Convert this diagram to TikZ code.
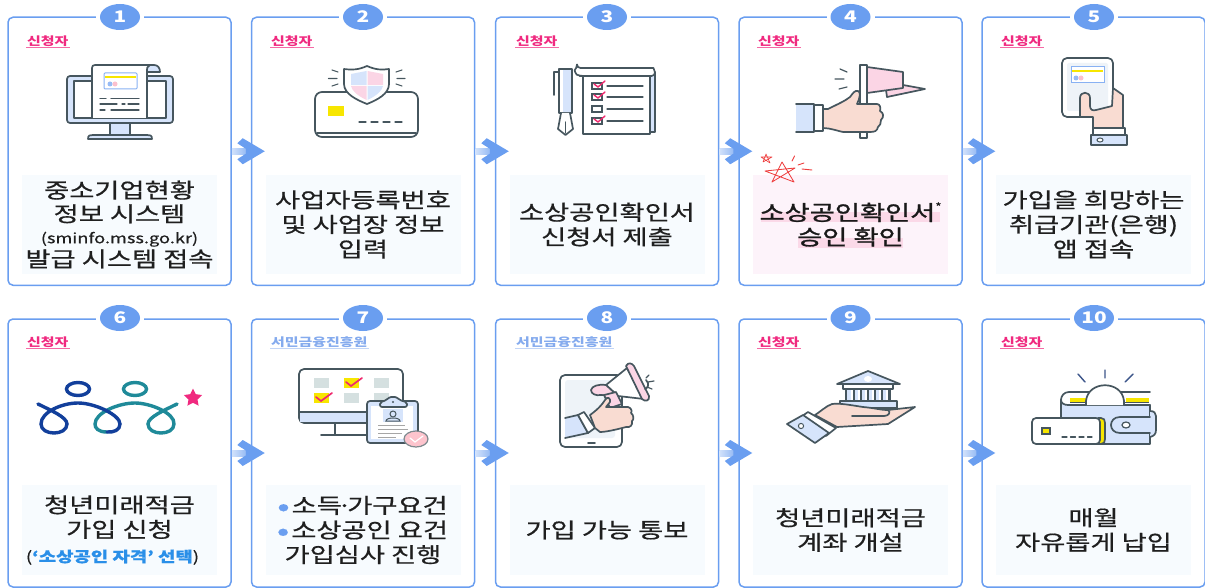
\documentclass[tikz,border=0pt]{standalone}
\usepackage{fontspec}
\setmainfont[FakeStretch=1.3]{Noto Sans CJK KR}
\newfontfamily\krmid[FakeStretch=1.3,FakeBold=0.6]{Noto Sans CJK KR}
\newfontfamily\krstrong[FakeStretch=1.3,FakeBold=1.3]{Noto Sans CJK KR}
\usetikzlibrary{calc,shapes.geometric}
\definecolor{lineblue}{HTML}{6A9EF0}
\definecolor{icdark}{HTML}{46565E}
\definecolor{panelbg}{HTML}{F7FBFE}
\definecolor{panelpink}{HTML}{FDF3FA}
\definecolor{hlpink}{HTML}{FBD9E8}
\definecolor{tagpink}{HTML}{F0297F}
\definecolor{tagblue}{HTML}{85ABEE}
\definecolor{lblue}{HTML}{D6E4FB}
\definecolor{lpink}{HTML}{FBD5E5}
\definecolor{skin}{HTML}{F9DCD2}
\definecolor{ylw}{HTML}{F7E600}
\definecolor{screen}{HTML}{EEF3F8}
\definecolor{chk}{HTML}{EF2A6E}
\definecolor{gsq}{HTML}{D5E0E0}
\definecolor{navy}{HTML}{123F9B}
\definecolor{teal1}{HTML}{1F8A99}
\definecolor{starred}{HTML}{EE3B3B}
\definecolor{qblue}{HTML}{2A8FE8}
\tikzset{
 stepcard/.style={draw=lineblue,line width=1.5,fill=white,rounded corners=5,minimum width=223,minimum height=268,inner sep=0},
 gapcover/.style={fill=white,draw=none,minimum width=48,minimum height=5,inner sep=0},
 badge/.style={ellipse,fill=lineblue,minimum width=40,minimum height=26,inner sep=0,text=white,font=\fontsize{16}{16}\bfseries},
 panel/.style={fill=panelbg,minimum width=195,minimum height=99,inner sep=0,align=center,font=\fontsize{21}{24.6}\krmid,text=black!88},
 tag/.style={anchor=west,inner sep=1,font=\fontsize{11.5}{11.5}\bfseries,text=tagpink},
 tagb/.style={tag,text=tagblue},
 ic/.style={draw=icdark,line width=1.7,line join=round,line cap=round},
 thin line/.style={draw=icdark,line width=1.1,line cap=round},
 rays/.style={draw=#1,line width=1.2,line cap=round},
 rays/.default=icdark,
 flowtail/.style={draw=lineblue!70,line width=6},
 flowhead/.style={fill=lineblue}
}
\newcommand\flowarrow[2]{%
 \draw[flowtail] (#1.east) -- ($(#2.west)+(6,0)$);
 \shade[left color=lineblue!30,right color=lineblue] ($(#1.east)+(0,-3)$) rectangle ($(#2.west)+(6,3)$);
 \fill[flowhead] ($(#2.west)+(14,0)$) -- ++(-22,-13) -- ++(-5.5,5) -- ++(8.5,5.5) -- ++(0,5) -- ++(-8.5,5.5) -- ++(5.5,5) -- cycle;
}
\newcommand\tagunder[2]{\draw[#2,line width=1] (#1.south west) -- (#1.south east);}
\newcommand\bdot{\raisebox{2.5pt}{\textcolor{lineblue}{\fontsize{8}{8}\selectfont ●}}\hspace{3pt}}
\begin{document}
\begin{tikzpicture}[x=1pt,y=-1pt]
\useasboundingbox (0,0) rectangle (1205,588);
% cards
\foreach \n/\cx in {1/119.5,2/363,3/607,4/850.5,5/1093.5}{
 \node[stepcard] (c\n) at (\cx,151.25) {};
 \node[gapcover] at (\cx,17.5) {};
}
\foreach \n/\cx in {6/119.5,7/363,8/607,9/850.5,10/1093.5}{
 \node[stepcard] (c\n) at (\cx,453) {};
 \node[gapcover] at (\cx,319) {};
}
% badges
\node[badge] (b1) at (120,17) {1};
\node[badge] (b2) at (363,17) {2};
\node[badge] (b3) at (607,17) {3};
\node[badge] (b4) at (850.5,17) {4};
\node[badge] (b5) at (1094,17) {5};
\node[badge] (b6) at (120,318) {6};
\node[badge] (b7) at (363,318) {7};
\node[badge] (b8) at (607,318) {8};
\node[badge] (b9) at (850.5,318) {9};
\node[badge] (b10) at (1094,318) {10};
% tags
\node[tag] (t1) at (26,41) {신청자};
\node[tag] (t2) at (270,41) {신청자};
\node[tag] (t3) at (515,41) {신청자};
\node[tag] (t4) at (757,41) {신청자};
\node[tag] (t5) at (1000,41) {신청자};
\node[tag] (t6) at (26,342) {신청자};
\node[tagb] (t7) at (270,342) {서민금융진흥원};
\node[tagb] (t8) at (515,342) {서민금융진흥원};
\node[tag] (t9) at (757,342) {신청자};
\node[tag] (t10) at (1000,342) {신청자};
\foreach \n in {1,2,3,4,5,6,9,10}{\tagunder{t\n}{tagpink!70}}
\foreach \n in {7,8}{\tagunder{t\n}{tagblue!50}}
% panels
\node[panel] (p1) at (119.5,224.5) {중소기업현황\\[-1pt]정보 시스템\\[-3pt]{\fontsize{14}{15}\selectfont (sminfo.mss.go.kr)}\\[-1pt]발급 시스템 접속};
\node[panel] (p2) at (363,224.5) {사업자등록번호\\및 사업장 정보\\입력};
\node[panel] (p3) at (607,224.5) {소상공인확인서\\신청서 제출};
\node[panel,fill=panelpink] (p4) at (850.5,224.5) {};
\fill[hlpink] (761,212) rectangle (940,222);
\fill[hlpink] (798,238) rectangle (903,248);
\node[align=center,inner sep=0,font=\fontsize{21}{24.6}\krstrong,text=black!90] (p4t) at (p4.center) {소상공인확인서\raisebox{10pt}{\fontsize{10}{10}\selectfont *}\\승인 확인};
\node[panel] (p5) at (1093.5,224.5) {가입을 희망하는\\취급기관(은행)\\앱 접속};
\node[panel,minimum height=90] (p6) at (119.5,530) {청년미래적금\\가입 신청\\{\fontsize{14.5}{16}\selectfont \kern-14pt(\textcolor{qblue}{\bfseries ‘소상공인 자격’ 선택})}};
\node[panel,minimum height=90] (p7) at (363,530) {\bdot 소득\kern-5pt·\kern-5pt가구요건\\\bdot 소상공인 요건\\가입심사 진행};
\node[panel,minimum height=90] (p8) at (607,530) {가입 가능 통보};
\node[panel,minimum height=90] (p9) at (850.5,530) {청년미래적금\\계좌 개설};
\node[panel,minimum height=90] (p10) at (1093.5,530) {매월\\자유롭게 납입};
% arrows
\flowarrow{c1}{c2}\flowarrow{c2}{c3}\flowarrow{c3}{c4}\flowarrow{c4}{c5}
\flowarrow{c6}{c7}\flowarrow{c7}{c8}\flowarrow{c8}{c9}\flowarrow{c9}{c10}

% ---- icon 1
\draw[ic,fill=lblue,rounded corners=3] (67,76) rectangle (173,123);
\draw[ic,fill=white] (74,81) rectangle (166,118);
\draw[ic,fill=lblue] (110,123) rectangle (130,135);
\draw[ic,fill=lblue] (88,139) .. controls (88,135) and (90,135) .. (93,135) -- (147,135) .. controls (150,135) and (152,135) .. (152,139) -- cycle;
\draw[ic,fill=lblue] (147,65) -- (154,65) .. controls (158,65) and (160,68) .. (160,72) -- (147,72) -- cycle;
\draw[ic,fill=white] (92,118) -- (92,68) .. controls (92,66) and (93,65) .. (95,65) -- (150,65) .. controls (147,66) and (147,68) .. (147,72) -- (147,118);
\draw[draw=lineblue!80,line width=1,fill=white,rounded corners=1] (104,73) rectangle (137,89);
\fill[ylw] (105,76) rectangle (136,78.5);
\fill[lineblue!70] (110,84) circle (2.5);
\fill[lpink!90!red] (115,84) circle (2.5);
\foreach \a/\b/\y in {100/106/98.7,111/139/98.7,100/117/104,122/125/104,128/139/104,100/105/110,111/139/110}{\draw[thin line] (\a,\y) -- (\b,\y);}
% ---- icon 2
\draw[ic,fill=white,rounded corners=7] (315,92) rectangle (418,137);
\draw[ic] (317,133) -- (416,133);
\fill[ylw] (328,106) rectangle (344,116);
\draw[thin line,dash pattern=on 7 off 5] (359,122) -- (402,122);
\draw[ic,fill=white] (367,66) .. controls (358,70) and (352,70) .. (344,69) -- (344,84) .. controls (344,94) and (357,100) .. (367,104) .. controls (377,100) and (389,94) .. (389,84) -- (389,69) .. controls (382,70) and (376,70) .. (367,66) -- cycle;
\fill[lblue] (351,74) -- (366.5,71) -- (366.5,85) -- (351,85) -- cycle;
\fill[lpink] (367.5,71) -- (383,74) -- (383,85) -- (367.5,85) -- cycle;
\fill[lpink] (351,86) -- (366.5,86) -- (366.5,100) .. controls (358,96) and (352,91) .. (351,86) -- cycle;
\fill[lblue] (367.5,86) -- (383,86) .. controls (382,91) and (376,96) .. (367.5,100) -- cycle;
\draw[thin line] (332,70) -- (338,72) (328.5,78.5) -- (337,78.5) (332,86) -- (338,84);
\draw[thin line] (402,70) -- (396,72) (405,78.5) -- (397,78.5) (402,86) -- (396,84);
% ---- icon 3
\draw[ic] (559,72) -- (554,72) -- (554,95);
\draw[ic,fill=lblue] (559,69) rectangle (572,113);
\fill[white] (560,70) rectangle (563,112);
\draw[ic,fill=white] (561,113) -- (558,129) -- (565.5,135) -- (573,129) -- (570,113);
\draw[thin line] (565.5,122) -- (565.5,133);
\draw[ic,fill=lblue] (650,72) -- (655,72) -- (655,132) -- (650,132);
\draw[ic,fill=white] (583,74) rectangle (650,134);
\draw[ic,fill=white,rounded corners=3.5] (577,68) -- (650,68) .. controls (653,68) and (655,71) .. (655,76) -- (583,76) -- (580,76) .. controls (575,74) and (575,70) .. (577,68) -- cycle;
\foreach \y/\ck in {86/1,97/1,109/0,121/1}{
 \draw[draw=icdark,line width=1.3,fill=white] (592,\y-3) rectangle (602,\y+3);
 \draw[thin line] (607,\y) -- (643,\y);
 \ifnum\ck=1 \draw[draw=chk,line width=1.4,line cap=round] (594,\y-2) -- (598,\y+1) -- (605,\y-5);\fi
}
% ---- icon 4
\draw[ic,fill=lpink] (886,90) -- (903,85) -- (925,89) -- (887,97) -- cycle;
\draw[ic,fill=lpink] (867,67) -- (903,72) -- (903,88) -- (867,93) -- cycle;
\draw[ic,fill=white] (860,65) rectangle (867,138);
\draw[ic,rays] (840,69) -- (847,72) (835,79) -- (844,79) (839,89) -- (847,87);
\fill[lblue] (796,104) rectangle (814,132);
\draw[ic] (796,104) -- (814,104) -- (814,132) -- (796,132);
\draw[ic,fill=white] (814,105) rectangle (823,131);
\draw[ic,fill=skin] (823,109) -- (828,109) .. controls (838,104) and (845,101) .. (850,97) .. controls (853,93) and (855,90) .. (858,91) .. controls (861,92) and (860,98) .. (857,104) -- (877,104) .. controls (880,104) and (881,108) .. (880,111) .. controls (884,113) and (884,117) .. (881,120) .. controls (881,123) and (880,126) .. (878,127) .. controls (877,131) and (875,132) .. (870,132) -- (843,132) .. controls (838,131) and (830,128) .. (823,128) -- cycle;
\draw[draw=starred,line width=.8,line join=round] (782,162) -- (794,182) -- (765,171) -- (795,168) -- (772,182) -- cycle;
\draw[draw=starred,line width=.6,line join=round] (766,154) -- (770,163) -- (761,157) -- (772,157) -- (763,162) -- cycle;
\draw[draw=starred,line width=.9,line cap=round] (792,161) -- (794.5,156) (798,165) -- (804,163) (802,169) -- (812,170);
% ---- icon 5
\draw[ic,fill=white,rounded corners=5] (1062,58) rectangle (1113,117);
\fill[screen,rounded corners=2] (1067,63) rectangle (1108,111);
\draw[draw=lineblue!80,line width=1,fill=white] (1071,67) rectangle (1104,83);
\fill[ylw] (1072,70) rectangle (1103,72.5);
\fill[lineblue!70] (1076,78) circle (2.5);
\fill[lpink!90!red] (1081,78) circle (2.5);
\draw[ic,fill=skin] (1093,128) -- (1093,117) -- (1080,117) -- (1080,98) .. controls (1080,91) and (1090,91) .. (1090,98) -- (1090,106) .. controls (1090,110) and (1093,111) .. (1096,110) -- (1112,106) -- (1113,88) -- (1123,95) -- (1123,128) -- cycle;
\draw[ic,fill=white] (1093,128) rectangle (1125,135);
\draw[ic,fill=lblue] (1091,135) rectangle (1127,145);
\draw[draw=icdark,line width=1,fill=white] (1100,140) ellipse (3 and 2);
% ---- icon 6 logo
\draw[draw=navy,line width=3.4] (78,389) ellipse (11.5 and 6.5);
\draw[draw=teal1,line width=3.4] (135,389) ellipse (11.5 and 6.5);
\draw[draw=teal1,line width=3.4,line cap=round] (107,432) .. controls (98,432) and (95,428) .. (95,424) .. controls (95,413) and (118,403) .. (135,403) .. controls (150,403) and (175,413) .. (174,424) .. controls (174,436) and (148,436) .. (148,424) .. controls (148,417) and (165,410) .. (177,404);
\draw[draw=navy,line width=3.4,line cap=round] (38,404) .. controls (50,410) and (67,417) .. (67,424) .. controls (67,436) and (41,436) .. (41,424) .. controls (41,412) and (62,403) .. (78,403) .. controls (95,403) and (120,415) .. (120,424) .. controls (120,430) and (114,432.5) .. (107,432);
\node[star,star points=5,star point ratio=2,fill=tagpink,minimum size=19,inner sep=0] (s6) at (193,398) {};
% ---- icon 7
\draw[ic,fill=white,rounded corners=5] (299,369) rectangle (403,423);
\fill[lblue] (300,412) rectangle (402,422);
\draw[ic] (299,412) -- (403,412);
\draw[ic] (335,423) -- (335,435) (321,435) -- (368,435);
\foreach \a/\b/\c in {314/378/gsq,344/378/ylw,374/378/gsq,314/393/ylw,344/393/gsq,374/393/gsq}{\fill[\c] (\a,\b) rectangle +(14.5,10);}
\draw[draw=chk,line width=1.7,line cap=round] (346,382) -- (351,386) -- (362,378) (316,397) -- (321,401) -- (332,393);
\draw[ic,fill=lblue,rounded corners=3] (367,401) rectangle (418,443);
\fill[white] (371,406) rectangle (413,439);
\draw[ic,fill=lblue,rounded corners=2] (380,407) -- (380,402) .. controls (386,401) and (389,397) .. (393,397) .. controls (397,397) and (400,401) .. (407,402) -- (407,407) -- cycle;
\fill[icdark] (393,402) circle (1.2);
\fill[lblue] (383,409) rectangle (403,422);
\draw[draw=icdark,line width=1] (393,414) circle (3);
\draw[draw=icdark,line width=1] (386,421) .. controls (386,417) and (400,417) .. (400,421) -- cycle;
\foreach \y/\a/\b in {425/378/405,429/378/408,433/378/402,437/378/396}{\draw[draw=gray!70,line width=1] (\a,\y) -- (\b,\y);}
\draw[draw=icdark!70,line width=1.2,fill=lpink!80!red!70] (416,439) ellipse (12 and 8);
\draw[draw=white,line width=1.2,line cap=round] (410,438) -- (415,442) -- (423,436);
% ---- icon 8
\draw[ic,fill=white,rounded corners=5] (560,375) rectangle (622,447);
\fill[screen,rounded corners=3] (565,380) rectangle (615,438);
\draw[ic] (588,443) -- (595,443);
\draw[ic,fill=white] (606,385) -- (627,368) -- (644,399) -- (618,396) -- cycle;
\draw[ic,fill=lpink] (626,366) .. controls (628,362) and (632,363) .. (634,366) -- (649,396) .. controls (650,401) and (645,402) .. (642,399) -- cycle;
\draw[ic,fill=lpink] (606,385) .. controls (598,384) and (592,386) .. (591,390) .. controls (591,394) and (596,396) .. (601,395) -- (618,396) -- cycle;
\draw[ic,fill=lpink] (604,395) -- (616,392) -- (622,404) -- (610,408) -- cycle;
\draw[rays] (646,378) -- (649,375) (648,382) -- (654,381) (647,387) -- (652,389);
\draw[ic] (646,380) .. controls (650,384) and (648,388) .. (645,389);
\draw[ic,fill=lblue] (565,418) -- (578,415) -- (588,433) -- (565,438);
\draw[ic,fill=white] (578,415) -- (584,412) -- (595,428) -- (588,433) -- cycle;
\draw[ic,fill=skin] (590,415) .. controls (597,410) and (602,405) .. (605,400) .. controls (607,396) and (611,398) .. (610,402) -- (606,407) -- (628,407) .. controls (632,408) and (632,412) .. (631,413) .. controls (634,415) and (634,420) .. (632,421) .. controls (633,425) and (630,428) .. (626,427) .. controls (615,430) and (605,432) .. (600,432) -- (595,428) -- cycle;
% ---- icon 9
\draw[ic,fill=lblue] (846,389) rectangle (890,401);
\foreach \x in {851,858,865,872,879,886}{\fill[white] (\x,390) rectangle +(2,10.5); \draw[draw=icdark,line width=1.1] (\x+3,389) -- (\x+3,401);}
\draw[ic,fill=white] (843,384) rectangle (893,389);
\draw[ic,fill=lblue] (868,371) -- (837,384) -- (900,384) -- cycle;
\fill[white] (868,379) ellipse (4 and 3);
\draw[ic,fill=lblue] (840,401) rectangle (897,408);
\draw[ic,fill=skin] (815,415) .. controls (820,412) and (826,406) .. (832,404) .. controls (840,403) and (850,405) .. (863,407) .. controls (875,408) and (880,410) .. (888,410) -- (915,407) -- (888,424) -- (837,427) -- cycle;
\draw[ic] (852,416) -- (884,416) .. controls (889,416) and (891,412) .. (888,410);
\draw[ic,fill=white] (808,412) -- (836,428) -- (826,436) -- (798,419) -- cycle;
\draw[ic,fill=lblue] (787,424) -- (803,415) -- (829,433) -- (815,443) -- cycle;
\draw[draw=icdark,line width=1,fill=white] (801,426) circle (2.6);
% ---- icon 10
\draw[ic,fill=lblue] (1150,405) -- (1150,444) -- (1070,444) .. controls (1064,444) and (1061,440) .. (1061,436) -- (1061,400) -- cycle;
\draw[ic,fill=white] (1150,392) -- (1069,392) .. controls (1064,392) and (1061,396) .. (1061,400) .. controls (1061,403) and (1064,405) .. (1068,405) -- (1150,405);
\fill[ylw] (1070,398) rectangle (1086,401.5);
\fill[ylw] (1126,398) rectangle (1149,401.5);
\draw[ic,fill=white] (1086,405) -- (1086,401) .. controls (1088,380) and (1122,380) .. (1124,401) -- (1124,405);
\draw[draw=icdark,line width=1] (1070,402) -- (1086,402) (1124,402) -- (1149,402);
\draw[draw=navy!70!black!80,line width=1.4,line cap=round] (1078,374) -- (1085,382) (1105,370) -- (1105,378) (1133,374) -- (1125,382);
\draw[ic,fill=lblue] (1150,411) .. controls (1154,411) and (1156,413) .. (1156,416) -- (1156,430) .. controls (1156,434) and (1154,436) .. (1150,437);
\draw[ic,fill=lblue] (1150,417) -- (1120,417) .. controls (1108,417) and (1108,433) .. (1120,433) -- (1150,433);
\draw[draw=icdark,line width=1.2,fill=white] (1126,425) ellipse (4 and 3);
\draw[ic,fill=ylw] (1098,418) -- (1101,418) .. controls (1104,418) and (1105,420) .. (1105,423) -- (1105,439) .. controls (1105,442) and (1104,444) .. (1101,444) -- (1098,444) -- cycle;
\draw[ic,fill=white,rounded corners=4] (1032,418) rectangle (1100,444);
\draw[draw=icdark,line width=1.2,fill=ylw] (1042,428) rectangle (1050,434);
\draw[thin line,dash pattern=on 5 off 3.5] (1062,437) -- (1092,437);
\end{tikzpicture}
\end{document}
